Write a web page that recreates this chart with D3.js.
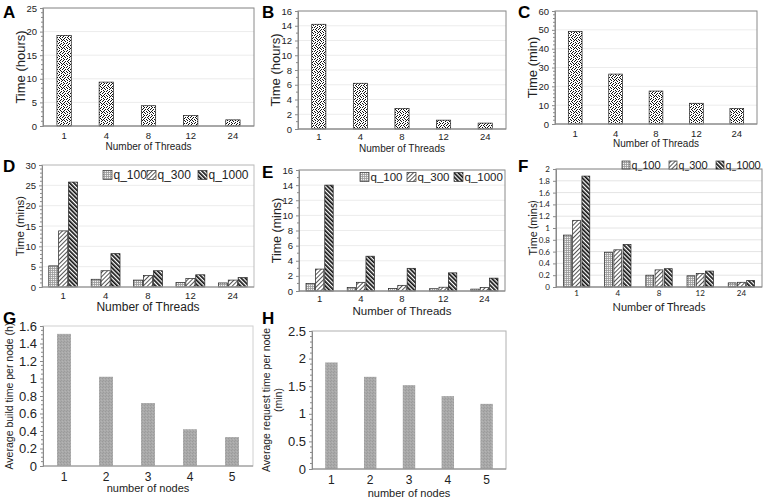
<!DOCTYPE html>
<html>
<head>
<meta charset="utf-8">
<script src="https://cdn.jsdelivr.net/npm/d3@7"></script>
<style>
  html, body { margin: 0; padding: 0; background: #fff; }
  svg { display: block; }
</style>
</head>
<body>
<svg id="chart" width="764" height="499"></svg>
<script>
// ---------------- DATA ----------------
const threads = ["1", "4", "8", "12", "24"];
const nodes = ["1", "2", "3", "4", "5"];
const seriesNames = ["q_100", "q_300", "q_1000"];

const aHours = [19.2, 9.3, 4.3, 2.2, 1.3];
const bHours = [14.2, 6.2, 2.8, 1.2, 0.8];
const cMinutes = [49.2, 26.5, 17.5, 11.0, 8.3];

const dQ100 = [5.2, 1.9, 1.7, 1.1, 1.0];
const dQ300 = [13.8, 4.0, 2.8, 2.1, 1.7];
const dQ1000 = [25.8, 8.2, 4.0, 3.0, 2.3];

const eQ100 = [1.0, 0.45, 0.35, 0.3, 0.25];
const eQ300 = [2.9, 1.15, 0.75, 0.5, 0.45];
const eQ1000 = [14.0, 4.6, 3.0, 2.4, 1.7];

const fQ100 = [0.88, 0.59, 0.2, 0.19, 0.07];
const fQ300 = [1.13, 0.63, 0.29, 0.23, 0.08];
const fQ1000 = [1.88, 0.72, 0.31, 0.27, 0.11];

const gBuild = [1.51, 1.02, 0.72, 0.42, 0.33];
const hRequest = [1.93, 1.67, 1.52, 1.32, 1.18];

const aTicks = [0, 5, 10, 15, 20, 25];
const bTicks = [0, 2, 4, 6, 8, 10, 12, 14, 16];
const cTicks = [0, 10, 20, 30, 40, 50, 60];
const dTicks = [0, 5, 10, 15, 20, 25, 30];
const eTicks = [0, 2, 4, 6, 8, 10, 12, 14, 16];
const fTicks = [0, 0.2, 0.4, 0.6, 0.8, 1, 1.2, 1.4, 1.6, 1.8, 2];
const gTicks = [0, 0.2, 0.4, 0.6, 0.8, 1, 1.2, 1.4, 1.6];
const hTicks = [0, 0.5, 1, 1.5, 2, 2.5];

// ---------------- DRAWING ----------------
const svg = d3.select("#chart");
const defs = svg.append("defs");

// speckled texture for A-C
(function () {
  const p = defs.append("pattern").attr("id", "dots").attr("patternUnits", "userSpaceOnUse")
    .attr("width", 8).attr("height", 8);
  p.append("rect").attr("width", 8).attr("height", 8).attr("fill", "#fff");
  const pts = [[0,0],[3,0],[6,0],[1,1],[5,1],[3,2],[7,2],[0,3],[2,3],[5,3],
               [4,4],[7,4],[1,5],[3,5],[6,5],[0,6],[4,6],[2,7],[5,7],[7,7]];
  pts.forEach(([x, y]) => p.append("rect").attr("x", x).attr("y", y).attr("width", 1).attr("height", 1).attr("fill", "#111"));
})();
// grid for q_100
(function () {
  const p = defs.append("pattern").attr("id", "grid").attr("patternUnits", "userSpaceOnUse")
    .attr("width", 2).attr("height", 2);
  p.append("rect").attr("width", 2).attr("height", 2).attr("fill", "#f2f2f2");
  p.append("rect").attr("width", 2).attr("height", 0.8).attr("fill", "#9a9a9a");
  p.append("rect").attr("width", 0.8).attr("height", 2).attr("fill", "#9a9a9a");
})();
// light diagonal hatch for q_300
(function () {
  const p = defs.append("pattern").attr("id", "hatch1").attr("patternUnits", "userSpaceOnUse")
    .attr("width", 3).attr("height", 3).attr("patternTransform", "rotate(45)");
  p.append("rect").attr("width", 3).attr("height", 3).attr("fill", "#fff");
  p.append("rect").attr("width", 1).attr("height", 3).attr("fill", "#555");
})();
// dense dark hatch for q_1000
(function () {
  const p = defs.append("pattern").attr("id", "hatch2").attr("patternUnits", "userSpaceOnUse")
    .attr("width", 3).attr("height", 3).attr("patternTransform", "rotate(-45)");
  p.append("rect").attr("width", 3).attr("height", 3).attr("fill", "#fff");
  p.append("rect").attr("width", 1.7).attr("height", 3).attr("fill", "#111");
})();
// gray textured fill for G-H
(function () {
  const p = defs.append("pattern").attr("id", "gray").attr("patternUnits", "userSpaceOnUse")
    .attr("width", 3).attr("height", 3);
  p.append("rect").attr("width", 3).attr("height", 3).attr("fill", "#a9a9a9");
  p.append("rect").attr("x", 0).attr("y", 0).attr("width", 1).attr("height", 1).attr("fill", "#9a9a9a");
  p.append("rect").attr("x", 2).attr("y", 1).attr("width", 1).attr("height", 1).attr("fill", "#b4b4b4");
  p.append("rect").attr("x", 1).attr("y", 2).attr("width", 1).attr("height", 1).attr("fill", "#9c9c9c");
})();

const seriesFills = ["url(#grid)", "url(#hatch1)", "url(#hatch2)"];
const fmt = d => String(+d.toFixed(2));

function panel(cfg) {
  const g = svg.append("g");
  const font = cfg.font || "Liberation Sans, Arial, Helvetica, sans-serif";
  const x = d3.scaleBand().domain(cfg.cats).range([cfg.x0, cfg.x1]);
  const y = d3.scaleLinear().domain([0, cfg.ticks[cfg.ticks.length - 1]]).range([cfg.y1, cfg.y0]);

  // gridlines
  g.append("g").selectAll("line").data(cfg.ticks.slice(1)).join("line")
    .attr("x1", cfg.x0).attr("x2", cfg.x1)
    .attr("y1", d => y(d)).attr("y2", d => y(d))
    .attr("stroke", cfg.gridColor || "#ececec").attr("stroke-width", 1);

  // bars
  const groupW = x.bandwidth() * cfg.barFrac;
  const inner = d3.scaleBand().domain(d3.range(cfg.series.length)).range([0, groupW]).paddingInner(cfg.innerPad || 0);
  cfg.series.forEach((vals, si) => {
    g.append("g").selectAll("rect").data(vals).join("rect")
      .attr("x", (d, i) => x(cfg.cats[i]) + (x.bandwidth() - groupW) / 2 + inner(si))
      .attr("y", d => y(d))
      .attr("width", inner.bandwidth())
      .attr("height", d => y(0) - y(d))
      .attr("fill", cfg.fills[si])
      .attr("stroke", cfg.barStroke || "#222")
      .attr("stroke-width", cfg.barStroke === "none" ? 0 : 0.7);
  });

  // frame
  const frameColor = cfg.frameColor || "#8a8a8a";
  if (cfg.box) {
    g.append("rect").attr("x", cfg.x0).attr("y", cfg.y0)
      .attr("width", cfg.x1 - cfg.x0).attr("height", cfg.y1 - cfg.y0)
      .attr("fill", "none").attr("stroke", cfg.boxColor || frameColor).attr("stroke-width", 1);
  }
  g.append("line").attr("x1", cfg.x0).attr("x2", cfg.x1).attr("y1", cfg.y1).attr("y2", cfg.y1)
    .attr("stroke", frameColor);

  // y axis
  const yAxis = d3.axisLeft(y).tickValues(cfg.ticks).tickSize(cfg.majorTick || 3).tickPadding(cfg.tickPad || 3).tickFormat(fmt);
  const ya = g.append("g").attr("transform", `translate(${cfg.x0},0)`).call(yAxis);
  ya.select(".domain").attr("stroke", frameColor);
  ya.selectAll(".tick line").attr("stroke", frameColor);
  ya.selectAll("text").attr("font-family", font).attr("font-size", cfg.yTickSize).attr("fill", "#222");
  if (cfg.minor) {
    const minors = [];
    for (let i = 0; i < cfg.ticks.length - 1; i++) {
      const a = cfg.ticks[i], b = cfg.ticks[i + 1];
      for (let k = 1; k < cfg.minor; k++) minors.push(a + (b - a) * k / cfg.minor);
    }
    g.append("g").selectAll("line").data(minors).join("line")
      .attr("x1", cfg.x0 - 2).attr("x2", cfg.x0).attr("y1", d => y(d)).attr("y2", d => y(d))
      .attr("stroke", frameColor);
  }

  // x axis labels
  const xAxis = d3.axisBottom(x).tickSize(0).tickPadding(cfg.xPad || 5);
  const xa = g.append("g").attr("transform", `translate(0,${cfg.y1})`).call(xAxis);
  xa.select(".domain").remove();
  xa.selectAll("text").attr("font-family", font).attr("font-size", cfg.xTickSize).attr("fill", "#222");

  // x title
  g.append("text").attr("x", (cfg.x0 + cfg.x1) / 2).attr("y", cfg.xTitleY)
    .attr("text-anchor", "middle").attr("font-family", font).attr("font-size", cfg.xTitleSize)
    .attr("fill", "#222").text(cfg.xTitle);

  // y title
  const yt = g.append("text").attr("transform", `translate(${cfg.yTitleX},${(cfg.y0 + cfg.y1) / 2}) rotate(-90)`)
    .attr("text-anchor", "middle").attr("font-family", font).attr("font-size", cfg.yTitleSize).attr("fill", "#222");
  cfg.yTitle.forEach((line, i) => yt.append("tspan").attr("x", 0).attr("dy", i === 0 ? 0 : "1.1em").text(line));

  // legend
  if (cfg.legend) {
    const bs = cfg.legend.box || 9;
    cfg.legend.xs.forEach((lx, i) => {
      g.append("rect").attr("x", lx).attr("y", cfg.legend.y - bs / 2).attr("width", bs).attr("height", bs)
        .attr("fill", seriesFills[i]).attr("stroke", "#333").attr("stroke-width", 0.7);
      g.append("text").attr("x", lx + bs + 1.5).attr("y", cfg.legend.y + cfg.legend.size * 0.36)
        .attr("font-family", font).attr("font-size", cfg.legend.size).attr("fill", "#222").text(seriesNames[i]);
    });
  }

  // panel letter
  svg.append("text").attr("x", cfg.letterX).attr("y", cfg.letterY)
    .attr("font-family", "Liberation Sans, Arial, sans-serif").attr("font-weight", "bold")
    .attr("font-size", 17).attr("fill", "#000").text(cfg.letter);
}

panel({ letter: "A", letterX: 3, letterY: 18, cats: threads, series: [aHours], fills: ["url(#dots)"],
  ticks: aTicks, minor: 5, x0: 43, x1: 254, y0: 8, y1: 126, barFrac: 0.34, box: true,
  yTickSize: 9.5, xTickSize: 9.5, xPad: 6, xTitle: "Number of Threads", xTitleY: 150, xTitleSize: 10,
  yTitle: ["Time (hours)"], yTitleX: 25, yTitleSize: 13 });

panel({ letter: "B", letterX: 262, letterY: 18, cats: threads, series: [bHours], fills: ["url(#dots)"],
  ticks: bTicks, minor: 2, x0: 298, x1: 506, y0: 11, y1: 129, barFrac: 0.34, box: true,
  yTickSize: 9.5, xTickSize: 9.5, xPad: 4, xTitle: "Number of Threads", xTitleY: 152, xTitleSize: 10,
  yTitle: ["Time (hours)"], yTitleX: 280, yTitleSize: 13 });

panel({ letter: "C", letterX: 518, letterY: 18, cats: threads, series: [cMinutes], fills: ["url(#dots)"],
  ticks: cTicks, minor: 5, x0: 555, x1: 757, y0: 11, y1: 124, barFrac: 0.34, box: true,
  yTickSize: 9.5, xTickSize: 9.5, xPad: 6, xTitle: "Number of Threads", xTitleY: 147, xTitleSize: 10,
  yTitle: ["Time (min)"], yTitleX: 537, yTitleSize: 13 });

panel({ letter: "D", letterX: 3, letterY: 172, cats: threads, series: [dQ100, dQ300, dQ1000], fills: seriesFills,
  ticks: dTicks, minor: 5, x0: 42, x1: 254, y0: 165, y1: 287, barFrac: 0.68, innerPad: 0.08, box: true,
  boxColor: "#bdbdbd",
  yTickSize: 9.5, xTickSize: 9.5, xPad: 5, xTitle: "Number of Threads", xTitleY: 311, xTitleSize: 12,
  yTitle: ["Time (mins)"], yTitleX: 24, yTitleSize: 11.5,
  legend: { xs: [103, 147, 198], y: 175, size: 12 } });

panel({ letter: "E", letterX: 262, letterY: 178, cats: threads, series: [eQ100, eQ300, eQ1000], fills: seriesFills,
  ticks: eTicks, minor: 2, x0: 299, x1: 505, y0: 170, y1: 291, barFrac: 0.66, innerPad: 0.1, box: true,
  yTickSize: 9.5, xTickSize: 9.5, xPad: 4, xTitle: "Number of Threads", xTitleY: 315, xTitleSize: 11.5,
  yTitle: ["Time (mins)"], yTitleX: 281, yTitleSize: 12.5,
  legend: { xs: [360, 407, 454], y: 177, size: 11.5 } });

panel({ letter: "F", letterX: 518, letterY: 172, cats: threads, series: [fQ100, fQ300, fQ1000], fills: seriesFills,
  ticks: fTicks, minor: 0, x0: 556, x1: 762, y0: 169, y1: 287, barFrac: 0.64, innerPad: 0.15, box: true,
  font: "Lato, Open Sans, sans-serif", gridColor: "#e4e4e4",
  yTickSize: 8, xTickSize: 8, xPad: 3, xTitle: "Number of Threads", xTitleY: 311, xTitleSize: 11,
  yTitle: ["Time (mins)"], yTitleX: 537, yTitleSize: 11,
  legend: { xs: [622, 669, 716], y: 165, size: 10.5, box: 8 } });

panel({ letter: "G", letterX: 3, letterY: 324, cats: nodes, series: [gBuild], fills: ["url(#gray)"], barStroke: "none",
  ticks: gTicks, minor: 4, x0: 43, x1: 253, y0: 326, y1: 466, barFrac: 0.33, box: true, boxColor: "#d0d0d0",
  gridColor: "none",
  yTickSize: 13, xTickSize: 12, xPad: 6, xTitle: "number of nodes", xTitleY: 492, xTitleSize: 11,
  yTitle: ["Average build time per node (h)"], yTitleX: 13, yTitleSize: 10.5 });

panel({ letter: "H", letterX: 262, letterY: 324, cats: nodes, series: [hRequest], fills: ["url(#gray)"], barStroke: "none",
  ticks: hTicks, minor: 5, x0: 312, x1: 506, y0: 331, y1: 469, barFrac: 0.32, box: true, boxColor: "#b0b0b0",
  gridColor: "none",
  yTickSize: 13, xTickSize: 12, xPad: 6, xTitle: "number of nodes", xTitleY: 497, xTitleSize: 11,
  yTitle: ["Average request time per node", "(min)"], yTitleX: 270, yTitleSize: 10.5 });
</script>
</body>
</html>
